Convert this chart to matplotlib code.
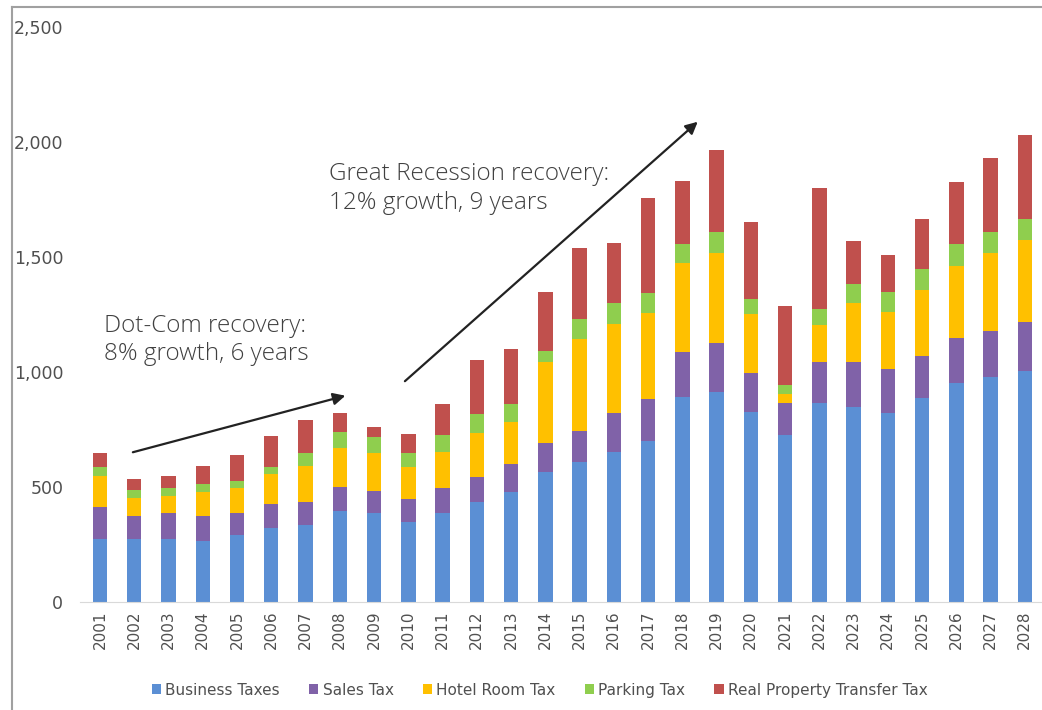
import numpy as np
import matplotlib
matplotlib.use("Agg")
import matplotlib.pyplot as plt
from matplotlib.lines import Line2D

years = [str(y) for y in range(2001, 2029)]

business = [273, 273, 275, 267, 290, 320, 335, 396, 388, 349, 388, 436, 480, 567,
            610, 654, 701, 893, 915, 828, 726, 864, 846, 823, 886, 951, 977, 1006]
sales = [141, 102, 111, 108, 96, 105, 98, 105, 96, 97, 106, 109, 120, 123,
         135, 166, 180, 195, 212, 169, 141, 178, 196, 189, 185, 198, 203, 213]
hotel = [134, 79, 76, 102, 108, 130, 158, 170, 165, 142, 158, 191, 184, 355,
         397, 389, 377, 385, 389, 254, 37, 162, 257, 250, 286, 313, 336, 355]
parking = [38, 33, 35, 35, 32, 33, 58, 70, 67, 61, 74, 81, 77, 48,
           87, 90, 84, 82, 94, 66, 39, 70, 82, 87, 89, 93, 94, 91]
transfer = [60, 46, 51, 81, 113, 134, 142, 82, 43, 81, 135, 235, 238, 256,
            312, 263, 413, 275, 355, 337, 344, 524, 190, 160, 218, 270, 319, 365]

series = [("Business Taxes", business, "#5b8fd4"),
          ("Sales Tax", sales, "#8062a8"),
          ("Hotel Room Tax", hotel, "#ffc000"),
          ("Parking Tax", parking, "#8fce4e"),
          ("Real Property Transfer Tax", transfer, "#c0504d")]

text_col = "#505050"
plt.rcParams['font.family'] = ['DejaVu Sans']

fig = plt.figure(figsize=(10.42, 7.1), dpi=100)
ax = fig.add_axes([0.0768, 0.1521, 0.9232, 0.8099])

x = np.arange(len(years))
bottom = np.zeros(len(years))
for name, vals, col in series:
    ax.bar(x, vals, 0.42, bottom=bottom, color=col, label=name)
    bottom += np.array(vals)

ax.set_xlim(-0.584, 27.5)
ax.set_ylim(0, 2500)
ax.set_yticks(range(0, 2501, 500))
ax.set_yticklabels(["0", "500", "1,000", "1,500", "2,000", "2,500"],
                   fontsize=12.5, color=text_col)
ax.set_xticks(x)
ax.set_xticklabels(years, rotation=90, fontsize=11, color=text_col)
ax.tick_params(axis='y', length=0, pad=12)
ax.tick_params(axis='x', length=0, pad=6)
for s in ["top", "right", "left"]:
    ax.spines[s].set_visible(False)
ax.spines["bottom"].set_color("#d9d9d9")

# recovery arrows and notes
ax.annotate("", xy=(7.24, 900), xytext=(0.88, 648),
            arrowprops=dict(arrowstyle="-|>", color="#222222", lw=1.6, mutation_scale=18))
ax.annotate("", xy=(17.51, 2096), xytext=(8.84, 952),
            arrowprops=dict(arrowstyle="-|>", color="#222222", lw=1.6, mutation_scale=18))
note_font = dict(fontsize=17.5, family=['Open Sans', 'DejaVu Sans'], weight='light',
                 color="#404040", va="center", ha="left", linespacing=1.25)
ax.text(0.12, 1140, "Dot-Com recovery:\n8% growth, 6 years", **note_font)
ax.text(6.68, 1798, "Great Recession recovery:\n12% growth, 9 years", **note_font)

fig.legend(loc="center", bbox_to_anchor=(0.518, 0.028), ncol=5, frameon=False,
           fontsize=11, handlelength=0.6, handleheight=0.6, handletextpad=0.3,
           columnspacing=1.9, labelcolor=text_col)

# frame lines of the screenshot
fig.add_artist(Line2D([12 / 1042, 12 / 1042], [0, 1 - 7 / 710], color="#a0a0a0", lw=1.5))
fig.add_artist(Line2D([12 / 1042, 1], [1 - 7 / 710, 1 - 7 / 710], color="#a0a0a0", lw=1.5))

fig.savefig("out.png", dpi=100)
